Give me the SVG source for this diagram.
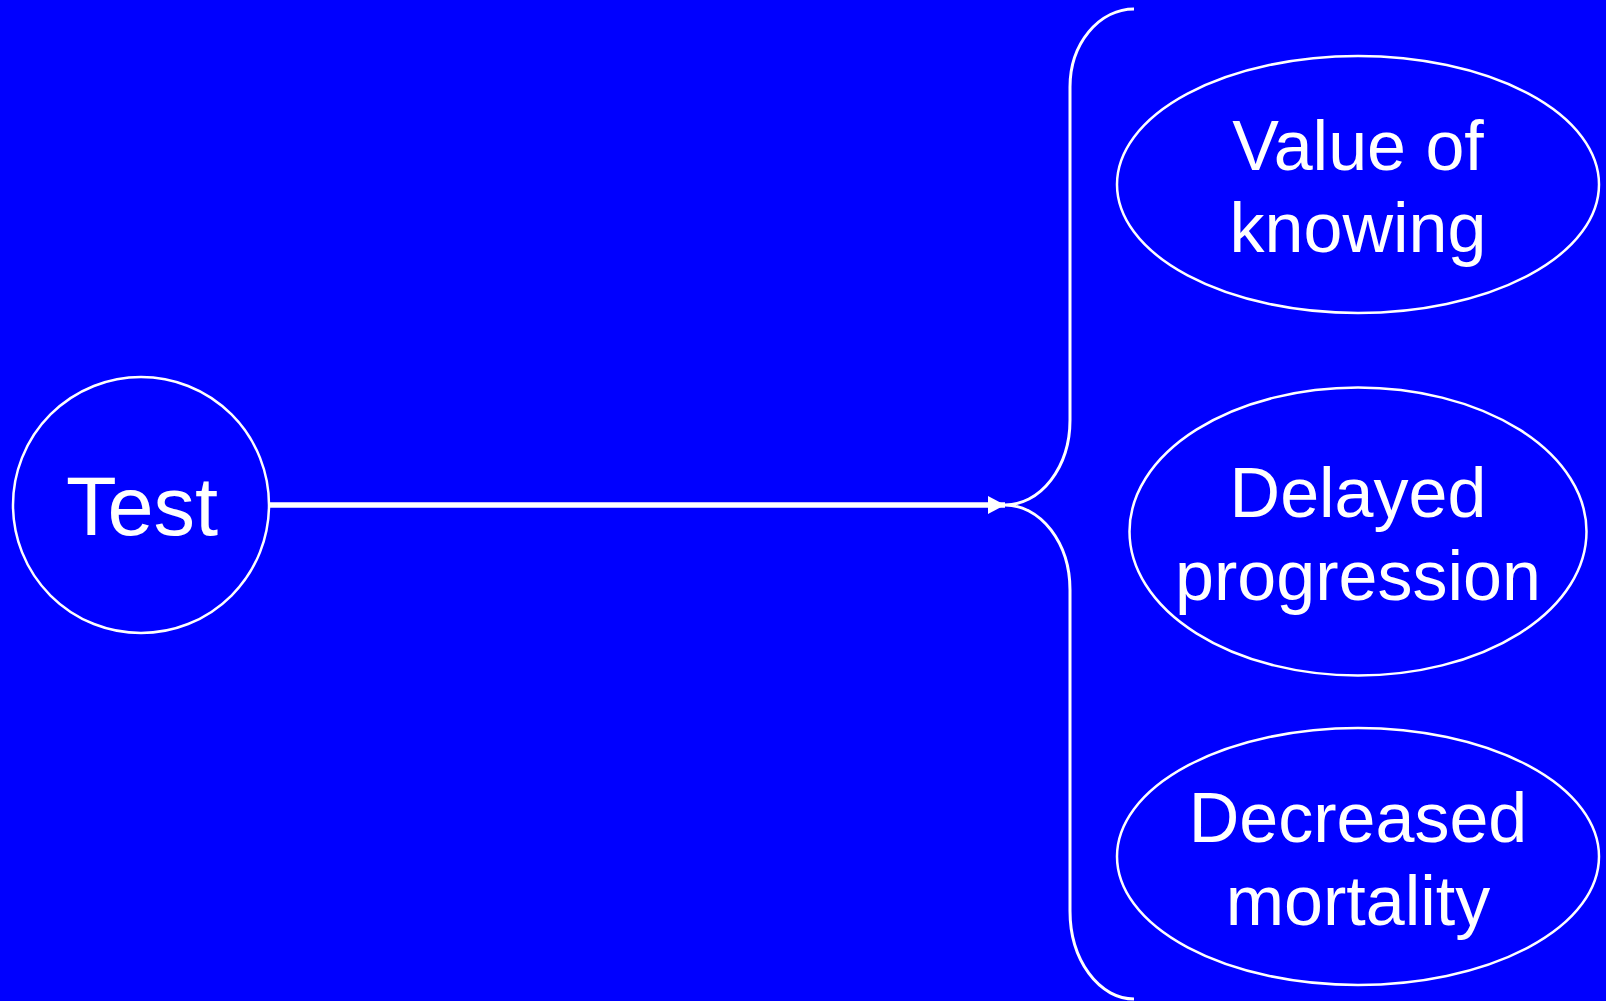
<svg xmlns="http://www.w3.org/2000/svg" width="1606" height="1001" viewBox="0 0 1606 1001">
  <defs>
    <style>
      .shape { fill: none; stroke: #FFFFFF; stroke-width: 2.5; }
      .label { fill: #FFFFFF; font-family: "Liberation Sans", Arial, sans-serif; text-anchor: middle; }
      .conn { fill: none; stroke: #FFFFFF; }
    </style>
    <marker id="arrow" viewBox="0 0 17 18" refX="17" refY="9" markerWidth="17" markerHeight="18" markerUnits="userSpaceOnUse" orient="auto">
      <path d="M0,0 L17,9 L0,18 Z" fill="#FFFFFF"/>
    </marker>
  </defs>
  <rect x="0" y="0" width="1606" height="1001" fill="#0000FF"/>

  <g id="connectors">
    <line class="conn" x1="269" y1="505" x2="1005" y2="505" stroke-width="5.5" marker-end="url(#arrow)"/>
    <path id="brace" class="conn" stroke-width="3" d="M1134,9 A64,78 0 0 0 1070,87 L1070,420 A65,85 0 0 1 1005,505 A65,85 0 0 1 1070,590 L1070,911 A64,88 0 0 0 1134,999"/>
  </g>

  <g id="node-test">
    <circle class="shape" cx="141" cy="505" r="128"/>
    <text class="label" x="142" y="535" font-size="83">Test</text>
  </g>

  <g id="node-value">
    <ellipse class="shape" cx="1358" cy="184.5" rx="241" ry="128.5"/>
    <text class="label" x="1358" y="170" font-size="70">Value of</text>
    <text class="label" x="1358" y="252" font-size="70">knowing</text>
  </g>

  <g id="node-delayed">
    <ellipse class="shape" cx="1358" cy="531.5" rx="228.5" ry="144"/>
    <text class="label" x="1358" y="517" font-size="70">Delayed</text>
    <text class="label" x="1358" y="600" font-size="70">progression</text>
  </g>

  <g id="node-decreased">
    <ellipse class="shape" cx="1358" cy="856.5" rx="241" ry="128.5"/>
    <text class="label" x="1358" y="842" font-size="70">Decreased</text>
    <text class="label" x="1358" y="925" font-size="70">mortality</text>
  </g>
</svg>
